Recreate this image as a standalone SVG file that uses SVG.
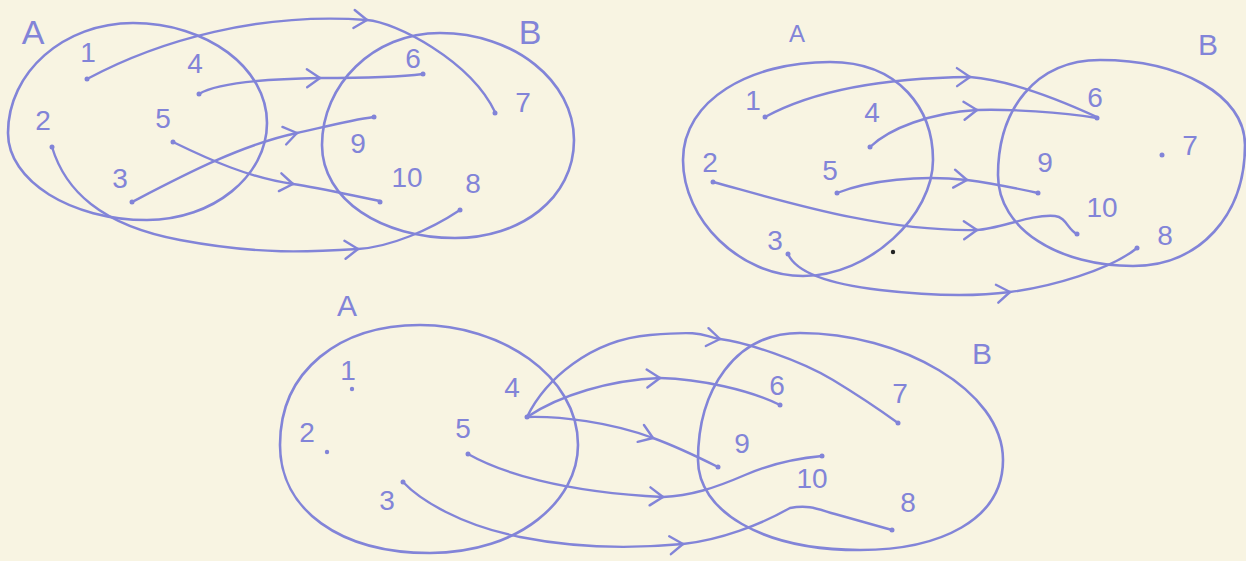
<svg xmlns="http://www.w3.org/2000/svg" width="1246" height="561" viewBox="0 0 1246 561">
<defs>
<style>
.set{fill:none;stroke:#8284d8;stroke-width:2.6;stroke-linecap:round;stroke-linejoin:round}
.ln{fill:none;stroke:#8284d8;stroke-width:2.4;stroke-linecap:round;stroke-linejoin:round}
.dot{fill:#8284d8;stroke:none}
.t{font-family:"Liberation Sans","DejaVu Sans",sans-serif;fill:#8284d8;font-size:28px;text-anchor:middle}
.big{font-size:34px}
</style>
<marker id="ah" markerUnits="userSpaceOnUse" viewBox="-16 -12 20 24" markerWidth="20" markerHeight="24" refX="0" refY="0" orient="auto" overflow="visible">
<path d="M-13,-9 L0,0 L-13,9" fill="none" stroke="#8284d8" stroke-width="2.4" stroke-linecap="round" stroke-linejoin="round"/>
</marker>
</defs>
<rect width="1246" height="561" fill="#f8f4e2"/>

<!-- Diagram 1 -->
<g id="d1-setA"><path class="set" d="M133,23 C207,23 267,68 267,123 C267,176 213,220 147,220 C71,220 8,181 8,133 C8,72 64,23 133,23 Z"/><text class="t big" x="33" y="44">A</text></g>
<g id="d1-setB"><path class="set" d="M440,33 C514,33 574,81 574,140 C574,199 520,238 455,238 C382,238 322,200 322,145 C322,85 373,33 440,33 Z"/><text class="t big" x="530" y="44">B</text></g>
<g id="d1-n1"><text class="t" x="88" y="62">1</text><circle class="dot" cx="87" cy="79" r="2.5"/></g>
<g id="d1-n4"><text class="t" x="195" y="73">4</text><circle class="dot" cx="199" cy="94" r="2.5"/></g>
<g id="d1-n2"><text class="t" x="43" y="130">2</text><circle class="dot" cx="52" cy="147" r="2.5"/></g>
<g id="d1-n5"><text class="t" x="163" y="128">5</text><circle class="dot" cx="173" cy="142" r="2.5"/></g>
<g id="d1-n3"><text class="t" x="120" y="188">3</text><circle class="dot" cx="132" cy="202" r="2.5"/></g>
<g id="d1-n6"><text class="t" x="413" y="68">6</text><circle class="dot" cx="423" cy="74" r="2.5"/></g>
<g id="d1-n7"><text class="t" x="523" y="112">7</text><circle class="dot" cx="495" cy="113" r="2.5"/></g>
<g id="d1-n9"><text class="t" x="358" y="153">9</text><circle class="dot" cx="374" cy="117" r="2.5"/></g>
<g id="d1-n10"><text class="t" x="407" y="187">10</text><circle class="dot" cx="380" cy="202" r="2.5"/></g>
<g id="d1-n8"><text class="t" x="473" y="193">8</text><circle class="dot" cx="460" cy="210" r="2.5"/></g>

<!-- Diagram 2 -->
<g id="d2-setA"><path class="set" d="M830,62 C900,62 933,110 933,160 C933,215 870,276 803,276 C740,276 683,220 683,160 C683,100 750,62 830,62 Z"/><text class="t" style="font-size:24px" x="797" y="42">A</text></g>
<g id="d2-setB"><path class="set" d="M1100,60 C1180,60 1245,95 1245,145 C1245,215 1200,266 1133,266 C1060,266 998,230 998,175 C998,110 1035,60 1100,60 Z"/><text class="t" style="font-size:30px" x="1208" y="55">B</text></g>
<g id="d2-n1"><text class="t" x="753" y="110">1</text><circle class="dot" cx="765" cy="117" r="2.5"/></g>
<g id="d2-n4"><text class="t" x="872" y="122">4</text><circle class="dot" cx="870" cy="147" r="2.5"/></g>
<g id="d2-n2"><text class="t" x="710" y="172">2</text><circle class="dot" cx="713" cy="182" r="2.5"/></g>
<g id="d2-n5"><text class="t" x="830" y="180">5</text><circle class="dot" cx="837" cy="193" r="2.5"/></g>
<g id="d2-n3"><text class="t" x="775" y="250">3</text><circle class="dot" cx="788" cy="254" r="2.5"/></g>
<g id="d2-n6"><text class="t" x="1095" y="107">6</text><circle class="dot" cx="1097" cy="118" r="2.5"/></g>
<g id="d2-n7"><text class="t" x="1190" y="155">7</text><circle class="dot" cx="1162" cy="155" r="2.5"/></g>
<g id="d2-n9"><text class="t" x="1045" y="172">9</text><circle class="dot" cx="1038" cy="193" r="2.5"/></g>
<g id="d2-n10"><text class="t" x="1102" y="217">10</text><circle class="dot" cx="1077" cy="234" r="2.5"/></g>
<g id="d2-n8"><text class="t" x="1165" y="245">8</text><circle class="dot" cx="1137" cy="248" r="2.5"/></g>
<circle cx="893" cy="252" r="2.2" fill="#222"/>

<!-- Diagram 3 -->
<g id="d3-setA"><path class="set" d="M420,325 C500,325 578,375 578,445 C578,500 520,553 430,553 C340,553 280,510 280,445 C280,370 340,325 420,325 Z"/><text class="t" style="font-size:30px" x="347" y="316">A</text></g>
<g id="d3-setB"><path class="set" d="M800,333 C900,333 1003,390 1003,460 C1003,520 940,550 860,550 C760,550 698,510 698,460 C698,390 735,333 800,333 Z"/><text class="t" style="font-size:30px" x="982" y="364">B</text></g>
<g id="d3-n1"><text class="t" x="348" y="380">1</text><circle class="dot" cx="352" cy="389" r="2.2"/></g>
<g id="d3-n2"><text class="t" x="307" y="442">2</text><circle class="dot" cx="327" cy="452" r="2.2"/></g>
<g id="d3-n5"><text class="t" x="463" y="438">5</text><circle class="dot" cx="468" cy="454" r="2.5"/></g>
<g id="d3-n4"><text class="t" x="512" y="397">4</text><circle class="dot" cx="527" cy="417" r="2.5"/></g>
<g id="d3-n3"><text class="t" x="387" y="510">3</text><circle class="dot" cx="403" cy="482" r="2.5"/></g>
<g id="d3-n6"><text class="t" x="777" y="395">6</text><circle class="dot" cx="780" cy="405" r="2.5"/></g>
<g id="d3-n7"><text class="t" x="900" y="403">7</text><circle class="dot" cx="898" cy="423" r="2.5"/></g>
<g id="d3-n9"><text class="t" x="742" y="453">9</text><circle class="dot" cx="718" cy="467" r="2.5"/></g>
<g id="d3-n10"><text class="t" x="812" y="488">10</text><circle class="dot" cx="822" cy="456" r="2.5"/></g>
<g id="d3-n8"><text class="t" x="908" y="512">8</text><circle class="dot" cx="892" cy="530" r="2.5"/></g>

<g id="connectors">
<!-- d1 -->
<path class="ln" marker-end="url(#ah)" d="M87,79 C160,40 260,12 367,20"/>
<path class="ln" d="M367,20 C395,22 470,60 495,112"/>
<path class="ln" marker-end="url(#ah)" d="M199,94 C215,84 260,79 320,78"/>
<path class="ln" d="M320,78 C360,78 400,77 423,74"/>
<path class="ln" marker-end="url(#ah)" d="M132,202 C180,177 240,145 297,133"/>
<path class="ln" d="M297,133 C320,128 350,120 374,117"/>
<path class="ln" marker-end="url(#ah)" d="M173,142 C210,160 250,178 293,184"/>
<path class="ln" d="M293,184 C320,188 350,195 380,201"/>
<path class="ln" marker-end="url(#ah)" d="M52,147 C65,190 100,225 180,240 S310,252 358,249"/>
<path class="ln" d="M358,249 C390,247 430,230 460,210"/>
<!-- d2 -->
<path class="ln" marker-end="url(#ah)" d="M765,117 C800,98 860,78 970,77"/>
<path class="ln" d="M970,77 C1010,80 1060,100 1097,117"/>
<path class="ln" marker-end="url(#ah)" d="M870,147 C890,128 930,113 977,110"/>
<path class="ln" d="M977,110 C1010,109 1060,112 1097,118"/>
<path class="ln" marker-end="url(#ah)" d="M837,193 C870,180 920,175 967,180"/>
<path class="ln" d="M967,180 C990,183 1015,188 1038,193"/>
<path class="ln" marker-end="url(#ah)" d="M713,182 C780,200 880,232 977,230"/>
<path class="ln" d="M977,230 C1000,229 1030,214 1055,216 C1066,217 1068,230 1077,234"/>
<path class="ln" marker-end="url(#ah)" d="M788,254 C795,270 820,283 880,290 S980,296 1010,292"/>
<path class="ln" d="M1010,292 C1050,287 1110,270 1137,248"/>
<!-- d3 -->
<path class="ln" marker-end="url(#ah)" d="M527,417 C545,380 590,340 650,335 S700,336 720,339"/>
<path class="ln" d="M720,339 C745,342 800,360 833,380 S880,410 898,423"/>
<path class="ln" marker-end="url(#ah)" d="M527,417 C560,395 610,380 660,378"/>
<path class="ln" d="M660,378 C700,379 750,390 780,405"/>
<path class="ln" marker-end="url(#ah)" d="M527,417 C560,416 610,422 653,438"/>
<path class="ln" d="M653,438 C675,446 700,458 718,467"/>
<path class="ln" marker-end="url(#ah)" d="M468,454 C500,472 560,492 663,497"/>
<path class="ln" d="M663,497 C690,496 715,488 745,475 S800,458 822,456"/>
<path class="ln" marker-end="url(#ah)" d="M403,482 C420,500 460,525 520,537 S640,548 683,544"/>
<path class="ln" d="M683,544 C720,540 760,525 790,508 C810,504 820,510 835,514 L892,530"/>
</g>
</svg>
